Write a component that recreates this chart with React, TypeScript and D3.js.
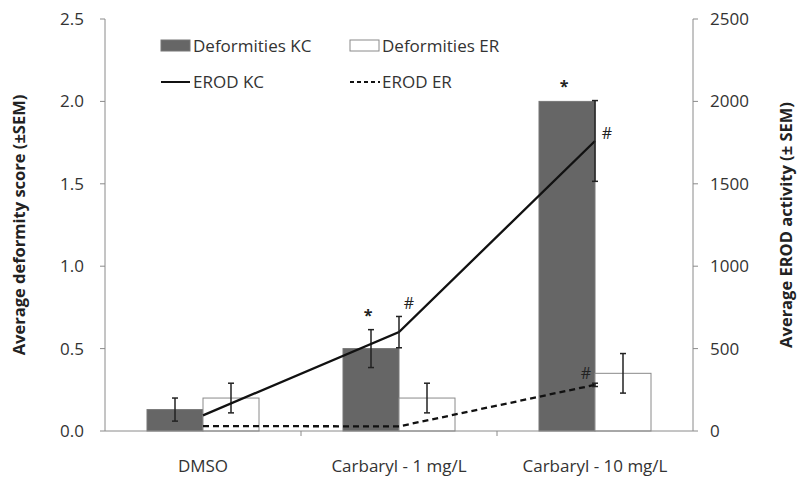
import React from "react";
import * as d3 from "d3";

const categories = ["DMSO", "Carbaryl - 1 mg/L", "Carbaryl - 10 mg/L"];

// deformity scores (left axis)
const deformKC = [0.13, 0.5, 2.0];
const deformKCErr = [0.07, 0.115, 0];
const deformER = [0.2, 0.2, 0.35];
const deformERErr = [0.09, 0.09, 0.12];

// EROD activity (right axis)
const erodKC = [95, 600, 1760];
const erodKCErr = [0, 95, 245];
const erodER = [30, 28, 280];
const erodERErr = [0, 0, 10];

const leftTicks = [0, 0.5, 1.0, 1.5, 2.0, 2.5];
const rightTicks = [0, 500, 1000, 1500, 2000, 2500];

// significance markers: category index, series, symbol, anchored to error top or to the point
const markers: [number, string, string, string][] = [
  [1, "deformKC", "*", "top"],
  [1, "erodKC", "#", "top"],
  [2, "deformKC", "*", "top"],
  [2, "erodKC", "#", "point"],
  [2, "erodER", "#", "point"],
];

const width = 800;
const height = 478;
const left = 105;
const right = 693;
const top = 19;
const bottom = 431;
const font = "'Open Sans', 'Noto Sans', sans-serif";
const axisColor = "#8a8a8a";
const fs = 17;

const App: React.FC = () => {
  const x = d3.scaleBand<string>().domain(categories).range([left, right]).paddingInner(0).paddingOuter(0);
  const inner = d3.scaleBand<string>().domain(["KC", "ER"]).range([0, x.bandwidth()]).paddingOuter(0.75).paddingInner(0);
  const yL = d3.scaleLinear().domain([0, 2.5]).range([bottom, top]);
  const yR = d3.scaleLinear().domain([0, 2500]).range([bottom, top]);
  const cx = (c: string) => (x(c) as number) + x.bandwidth() / 2;
  const bw = inner.bandwidth();

  const line = d3
    .line<number>()
    .x((_, i) => cx(categories[i]))
    .y((d) => yR(d));

  const errBar = (xp: number, y1: number, y2: number, key: string) => (
    <g key={key} stroke="#222" strokeWidth={1.5}>
      <line x1={xp} x2={xp} y1={y1} y2={y2} />
      <line x1={xp - 3} x2={xp + 3} y1={y1} y2={y1} />
      <line x1={xp - 3} x2={xp + 3} y1={y2} y2={y2} />
    </g>
  );

  const markerPos = (i: number, s: string, anchor: string) => {
    const c = categories[i];
    if (s === "deformKC") {
      const xp = (x(c) as number) + (inner("KC") as number) + bw / 2 - 3;
      return [xp, yL(deformKC[i] + deformKCErr[i]) - 9];
    }
    if (s === "erodKC") {
      if (anchor === "top") return [cx(c) + 10, yR(erodKC[i] + erodKCErr[i]) - 7];
      return [cx(c) + 12, yR(erodKC[i]) - 2];
    }
    return [cx(c) - 9, yR(erodER[i]) - 6];
  };

  return (
    <svg width={width} height={height} style={{ display: "block", position: "absolute", left: 0, top: 0 }} fontFamily={font}>
      <rect width={width} height={height} fill="#fff" />

      {/* bars */}
      {categories.map((c, i) => {
        const x0 = x(c) as number;
        return (
          <g key={c}>
            <rect x={x0 + (inner("KC") as number)} y={yL(deformKC[i])} width={bw} height={bottom - yL(deformKC[i])} fill="#666" stroke="#777" />
            <rect x={x0 + (inner("ER") as number)} y={yL(deformER[i])} width={bw} height={bottom - yL(deformER[i])} fill="#fff" stroke="#8a8a8a" />
          </g>
        );
      })}

      {/* deformity error bars */}
      {categories.map((c, i) => {
        const x0 = x(c) as number;
        const xk = x0 + (inner("KC") as number) + bw / 2;
        const xe = x0 + (inner("ER") as number) + bw / 2;
        return (
          <g key={"e" + c}>
            {deformKCErr[i] > 0 && errBar(xk, yL(deformKC[i] + deformKCErr[i]), yL(deformKC[i] - deformKCErr[i]), "k")}
            {errBar(xe, yL(deformER[i] + deformERErr[i]), yL(deformER[i] - deformERErr[i]), "r")}
          </g>
        );
      })}

      {/* EROD lines */}
      <path d={line(erodKC) || ""} fill="none" stroke="#111" strokeWidth={2.3} />
      <path d={line(erodER) || ""} fill="none" stroke="#111" strokeWidth={2.3} strokeDasharray="6,4" />
      {categories.map((c, i) => (
        <g key={"r" + c}>
          {erodKCErr[i] > 0 && errBar(cx(c), yR(erodKC[i] + erodKCErr[i]), yR(erodKC[i] - erodKCErr[i]), "k")}
          {erodERErr[i] > 0 && errBar(cx(c), yR(erodER[i] + erodERErr[i]), yR(erodER[i] - erodERErr[i]), "r")}
        </g>
      ))}

      {/* markers */}
      {markers.map(([i, s, sym, anchor], k) => {
        const [mx, my] = markerPos(i, s, anchor);
        return (
          <text key={k} x={mx} y={my} textAnchor="middle" fontSize={16} fontWeight={sym === "*" ? "bold" : "normal"} fill="#222">
            {sym}
          </text>
        );
      })}

      {/* left axis */}
      <line x1={left} x2={left} y1={top} y2={bottom} stroke={axisColor} />
      {leftTicks.map((t) => (
        <g key={t}>
          <line x1={left - 5} x2={left} y1={yL(t)} y2={yL(t)} stroke={axisColor} />
          <text x={left - 21} y={yL(t)} dy="0.35em" textAnchor="end" fontSize={fs} fill="#333">
            {d3.format(".1f")(t)}
          </text>
        </g>
      ))}
      <text transform={`translate(25,${(top + bottom) / 2}) rotate(-90)`} textAnchor="middle" fontSize={16.5} fontWeight="bold" fill="#222">
        Average deformity score (±SEM)
      </text>

      {/* right axis */}
      <line x1={right} x2={right} y1={top} y2={bottom} stroke={axisColor} />
      {rightTicks.map((t) => (
        <g key={t}>
          <line x1={right} x2={right + 5} y1={yR(t)} y2={yR(t)} stroke={axisColor} />
          <text x={right + 17} y={yR(t)} dy="0.35em" textAnchor="start" fontSize={fs} fill="#333">
            {t}
          </text>
        </g>
      ))}
      <text transform={`translate(792,${(top + bottom) / 2}) rotate(-90)`} textAnchor="middle" fontSize={16.5} fontWeight="bold" fill="#222">
        Average EROD activity (± SEM)
      </text>

      {/* x axis */}
      <line x1={left} x2={right} y1={bottom} y2={bottom} stroke={axisColor} />
      {categories.slice(1).map((c) => (
        <line key={c} x1={x(c) as number} x2={x(c) as number} y1={bottom} y2={bottom + 5} stroke={axisColor} />
      ))}
      {categories.map((c) => (
        <text key={c} x={cx(c)} y={466} dy="0.35em" textAnchor="middle" fontSize={fs} fill="#333">
          {c}
        </text>
      ))}

      {/* legend */}
      <g fontSize={fs} fill="#333">
        <rect x={161} y={40} width={29} height={11} fill="#666" stroke="#777" />
        <text x={193} y={46} dy="0.35em">Deformities KC</text>
        <rect x={350} y={40} width={29} height={11} fill="#fff" stroke="#8a8a8a" />
        <text x={382} y={46} dy="0.35em">Deformities ER</text>
        <line x1={161} x2={190} y1={82} y2={82} stroke="#111" strokeWidth={2} />
        <text x={193} y={82} dy="0.35em">EROD KC</text>
        <line x1={350} x2={380} y1={82} y2={82} stroke="#111" strokeWidth={2} strokeDasharray="4,3" />
        <text x={382} y={82} dy="0.35em">EROD ER</text>
      </g>
    </svg>
  );
};

export default App;
